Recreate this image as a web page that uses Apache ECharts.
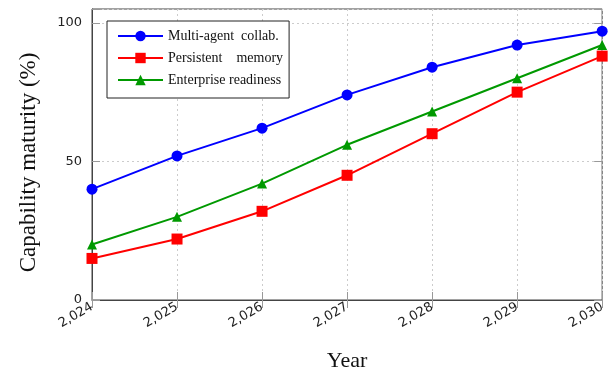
<!DOCTYPE html>
<html>
<head>
<meta charset="utf-8">
<script src="https://cdn.jsdelivr.net/npm/echarts@6/dist/echarts.min.js"></script>
<style>
  html, body { margin: 0; padding: 0; background: #fff; }
  #chart { width: 608px; height: 377px; }
</style>
</head>
<body>
<div id="chart"></div>
<script>
  // 数据
  var years = [2024, 2025, 2026, 2027, 2028, 2029, 2030]
  var multiAgent = [40, 52, 62, 74, 84, 92, 97]
  var persistentMemory = [15, 22, 32, 45, 60, 75, 88]
  var enterpriseReadiness = [20, 30, 42, 56, 68, 80, 92]
  var yTicks = [0, 50, 100]

  function pairs(vals) {
    return years.map(function(y, i) { return [y, vals[i]] })
  }

  var serif = 'Liberation Serif'
  var sans = 'DejaVu Sans'

  var chart = echarts.init(document.getElementById('chart'))
  chart.setOption({
    animation: false,
    grid: {
      left: 92,
      right: 5,
      top: 9,
      bottom: 72,
      show: true,
      borderColor: '#444',
      borderWidth: 1
    },
    legend: {
      orient: 'vertical',
      left: 107,
      top: 21,
      itemWidth: 45,
      itemHeight: 13,
      itemGap: 8,
      padding: [8, 6, 11, 10],
      borderColor: '#222',
      borderWidth: 1,
      backgroundColor: '#fff',
      textStyle: { fontFamily: serif, fontSize: 14, color: '#111' },
      data: ['Multi-agent  collab.', 'Persistent    memory', 'Enterprise readiness']
    },
    xAxis: [{
      type: 'value',
      min: years[0],
      max: years[years.length - 1],
      interval: 1,
      name: 'Year',
      nameLocation: 'middle',
      nameGap: 50,
      nameTextStyle: { fontFamily: serif, fontSize: 22, color: '#111' },
      axisLine: { show: true, lineStyle: { color: '#444' } },
      axisTick: { inside: true, length: 8, lineStyle: { color: '#999' } },
      axisLabel: {
        rotate: 30,
        fontFamily: sans,
        fontSize: 13,
        color: '#222',
        margin: 6,
        formatter: function(v) { return v.toLocaleString('en-US') }
      },
      splitLine: { show: true, lineStyle: { color: '#ccc', type: [2, 3] } }
    }, {
      type: 'value',
      position: 'top',
      min: years[0],
      max: years[years.length - 1],
      interval: 1,
      axisLine: { show: false },
      axisTick: { inside: true, length: 8, lineStyle: { color: '#999' } },
      axisLabel: { show: false },
      splitLine: { show: false }
    }],
    yAxis: [{
      type: 'value',
      min: 0,
      max: 105,
      interval: 50,
      name: 'Capability maturity (%)',
      nameLocation: 'middle',
      nameGap: 52,
      nameTextStyle: { fontFamily: serif, fontSize: 23, color: '#111', padding: [0, 16, 0, 0] },
      axisLine: { show: true, lineStyle: { color: '#444' } },
      axisTick: { inside: true, length: 8, lineStyle: { color: '#999' } },
      axisLabel: {
        fontFamily: sans,
        fontSize: 13,
        color: '#222',
        margin: 10,
        formatter: function(v) { return yTicks.indexOf(v) >= 0 ? String(v) : '' }
      },
      splitLine: { show: true, lineStyle: { color: '#ccc', type: [2, 3] } }
    }, {
      type: 'value',
      position: 'right',
      min: 0,
      max: 105,
      interval: 50,
      axisLine: { show: false },
      axisTick: { show: true, inside: true, length: 8, lineStyle: { color: '#999' } },
      axisLabel: { show: false },
      splitLine: { show: false }
    }],
    series: [{
      name: 'Multi-agent  collab.',
      type: 'line',
      data: pairs(multiAgent),
      symbol: 'circle',
      symbolSize: 11,
      color: '#0000ff',
      lineStyle: { width: 2 }
    }, {
      name: 'Persistent    memory',
      type: 'line',
      data: pairs(persistentMemory),
      symbol: 'rect',
      symbolSize: 11,
      color: '#ff0000',
      lineStyle: { width: 2 }
    }, {
      name: 'Enterprise readiness',
      type: 'line',
      data: pairs(enterpriseReadiness),
      symbol: 'triangle',
      symbolSize: 10,
      color: '#009900',
      lineStyle: { width: 2 }
    }]
  })
</script>
</body>
</html>
